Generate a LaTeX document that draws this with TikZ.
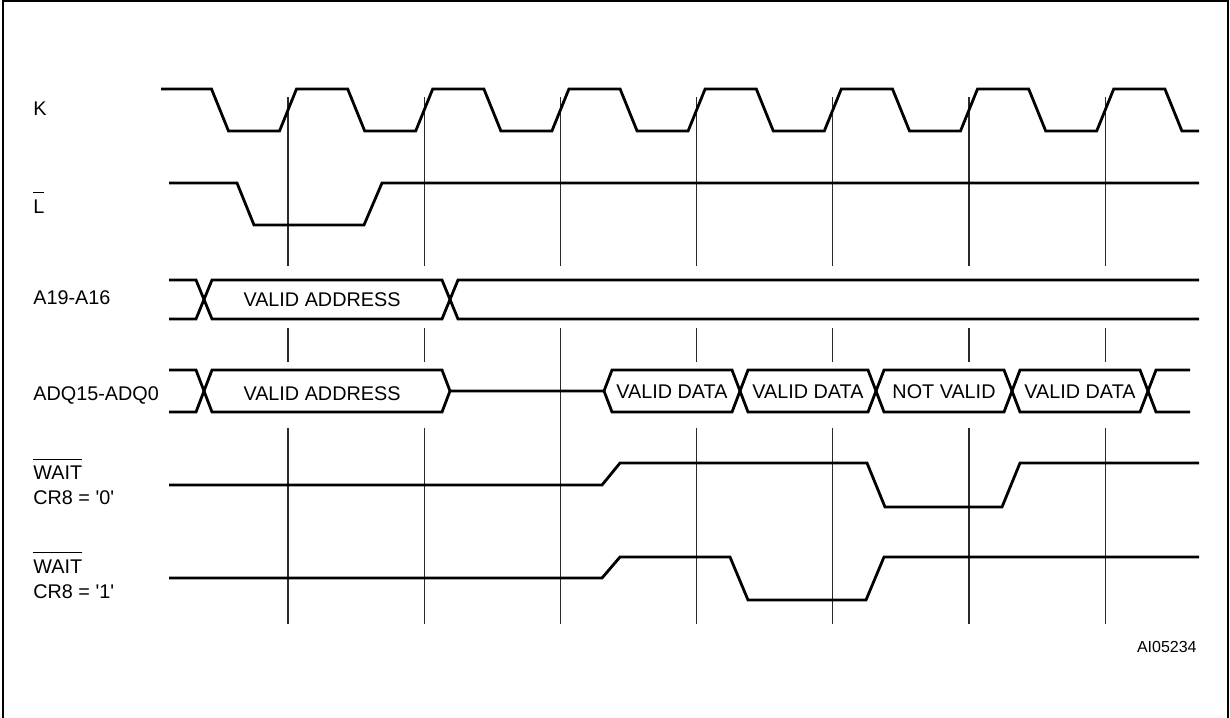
\documentclass[tikz,border=0pt]{standalone}
\usepackage{fontspec}
\setmainfont{Liberation Sans}
\usepackage{tikz}
\usetikzlibrary{calc}
\definecolor{ink}{HTML}{000000}
\definecolor{gridc}{HTML}{2A2A2A}
\newcommand{\negsig}[1]{\leavevmode\vbox{\hrule height 0.5pt\kern 3.2pt\hbox{#1}}}
\tikzset{
  sig/.style={draw=ink, line width=1.4pt},
  tick/.style={draw=gridc, line width=0.6pt},
  frame/.style={draw=ink, line width=1pt},
  lab/.style={text=ink, font=\fontsize{9.9}{12.5}\selectfont, inner sep=0pt},
  buslab/.style={lab, anchor=base},
  sidelab/.style={lab, anchor=base west},
  twolab/.style={lab, anchor=north west, align=left},
  reflab/.style={text=ink, font=\fontsize{8}{10}\selectfont, inner sep=0pt, anchor=base east},
}

\begin{document}
\begin{tikzpicture}[x=0.5pt,y=-0.5pt]
  \useasboundingbox (0,0) rectangle (1230,717);
  \def\T{136.2}
  \def\xf{220}
  \def\xr{288}
  \def\e{8.5}
  \def\Kh{89}
  \def\Kl{131}

  \draw[frame] (2.5,720) -- (2.5,1) -- (1228,1) -- (1228,720);

  % sampling lines
  \foreach \k in {0,...,6} {
    \draw[tick] ({\xr+\k*\T},97) -- ({\xr+\k*\T},266);
    \draw[tick] ({\xr+\k*\T},328) -- ({\xr+\k*\T},362);
    \draw[tick] ({\xr+\k*\T},428) -- ({\xr+\k*\T},624);
  }
  \draw[tick] ({\xr+2*\T},362) -- ({\xr+2*\T},428);

  % K
  \draw[sig] (161,\Kh) \foreach \i in {0,...,6} {
      -- ({\xf+\i*\T-\e},\Kh) -- ({\xf+\i*\T+\e},\Kl)
      -- ({\xr+\i*\T-\e},\Kl) -- ({\xr+\i*\T+\e},\Kh) }
    -- ({\xf+7*\T-\e},\Kh) -- ({\xf+7*\T+\e},\Kl) -- (1199,\Kl);

  % L
  \draw[sig] (169,183) -- (237,183) -- (254,225) -- (364,225) -- (382,183) -- (1199,183);

  % A19-A16
  \draw[sig] (169,280) -- (196,280) -- (212,319) -- (442,319) -- (458,280) -- (1199,280);
  \draw[sig] (169,319) -- (196,319) -- (212,280) -- (442,280) -- (458,319) -- (1199,319);

  % ADQ15-ADQ0
  \draw[sig] (169,370) -- (196,370) -- (212,412) -- (442,412) -- (450,391) -- (604,391)
    -- (612,412) -- (732,412) -- (748,370) -- (868,370) -- (884,412) -- (1004,412)
    -- (1020,370) -- (1140,370) -- (1156,412) -- (1190,412);
  \draw[sig] (169,412) -- (196,412) -- (212,370) -- (442,370) -- (450,391);
  \draw[sig] (604,391) -- (612,370) -- (732,370) -- (748,412) -- (868,412) -- (884,370)
    -- (1004,370) -- (1020,412) -- (1140,412) -- (1156,370) -- (1190,370);

  % WAIT
  \draw[sig] (169,485) -- (602,485) -- (620,463) -- (867,463) -- (885,507) -- (1002,507) -- (1020,463) -- (1199,463);
  \draw[sig] (169,578) -- (602,578) -- (620,557) -- (730,557) -- (748,600) -- (866,600) -- (884,557) -- (1199,557);

  \node[sidelab] (klab) at (33,115) {K};
  \node[sidelab] (llab) at (33,213.5) {\negsig{L}};
  \node[sidelab] (alab) at (33,304) {A19-A16};
  \node[sidelab] (dlab) at (33,400) {ADQ15-ADQ0};
  \node[twolab] (w0lab) at (33,458.5) {\negsig{WAIT}\\CR8 = \textquotesingle 0\textquotesingle};
  \node[twolab] (w1lab) at (33,552) {\negsig{WAIT}\\CR8 = \textquotesingle 1\textquotesingle};

  \node[buslab] (aaddr) at (322,306) {VALID ADDRESS};
  \node[buslab] (daddr) at (322,400) {VALID ADDRESS};
  \node[buslab] (dat1) at (672,398) {VALID DATA};
  \node[buslab] (dat2) at (808,398) {VALID DATA};
  \node[buslab] (nval) at (944,398) {NOT VALID};
  \node[buslab] (dat4) at (1080,398) {VALID DATA};

  \node[reflab] (fig) at (1197,652) {AI05234};
\end{tikzpicture}
\end{document}
